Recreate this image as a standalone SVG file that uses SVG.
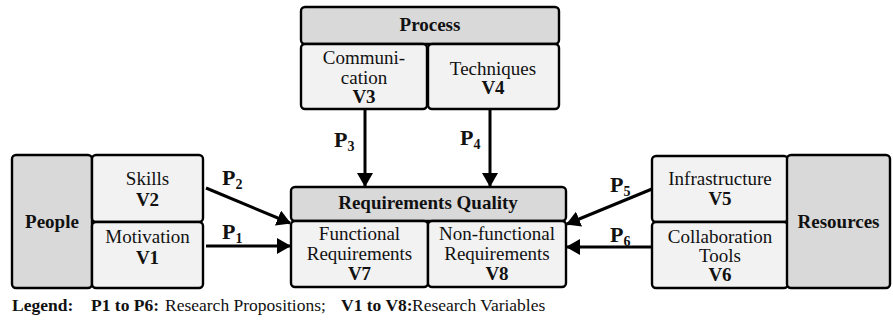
<svg xmlns="http://www.w3.org/2000/svg" width="893" height="320" viewBox="0 0 893 320">
<defs>
<marker id="ah" markerUnits="userSpaceOnUse" markerWidth="14" markerHeight="16" refX="13" refY="8" orient="auto">
<path d="M0,0 L14,8 L0,16 z" fill="#000"/>
</marker>
<style>
.hd{fill:#d9d9d9;stroke:#000;stroke-width:2.4}
.cl{fill:#f2f2f2;stroke:#000;stroke-width:2.4}
text{font-family:'Liberation Serif',serif !important;font-size:19px;fill:#111;text-anchor:middle}
.b{font-weight:bold}
.lg{font-size:17.5px;text-anchor:start}
.ar{stroke:#000;stroke-width:3;fill:none;marker-end:url(#ah)}
.pl{font-weight:bold;font-size:22px;text-anchor:start}
.sub{font-size:14px}
</style>
</defs>
<g id="process">
<rect class="hd" x="301" y="7" width="258" height="37" rx="4"/>
<text font-family="Liberation Serif" class="b" x="430" y="31">Process</text>
</g>
<g id="v3">
<rect class="cl" x="301" y="44" width="126" height="65" rx="4"/>
<text font-family="Liberation Serif" x="364" y="64">Communi-</text>
<text font-family="Liberation Serif" x="364" y="84">cation</text>
<text font-family="Liberation Serif" class="b" x="364" y="103">V3</text>
</g>
<g id="v4">
<rect class="cl" x="428" y="44" width="131" height="65" rx="4"/>
<text font-family="Liberation Serif" x="493" y="75">Techniques</text>
<text font-family="Liberation Serif" class="b" x="493" y="94">V4</text>
</g>
<g id="people">
<rect class="hd" x="12" y="155" width="80" height="133" rx="4"/>
<text font-family="Liberation Serif" class="b" x="52" y="228">People</text>
</g>
<g id="v2">
<rect class="cl" x="92" y="155" width="111" height="67" rx="4"/>
<text font-family="Liberation Serif" x="147.5" y="185">Skills</text>
<text font-family="Liberation Serif" class="b" x="147.5" y="206">V2</text>
</g>
<g id="v1">
<rect class="cl" x="92" y="222" width="111" height="66" rx="4"/>
<text font-family="Liberation Serif" x="147.5" y="243">Motivation</text>
<text font-family="Liberation Serif" class="b" x="147.5" y="264">V1</text>
</g>
<g id="quality">
<rect class="hd" x="291" y="187" width="275" height="34" rx="4"/>
<text font-family="Liberation Serif" class="b" x="428" y="209">Requirements Quality</text>
</g>
<g id="v7">
<rect class="cl" x="291" y="221" width="137" height="66" rx="4"/>
<text font-family="Liberation Serif" x="359.5" y="240">Functional</text>
<text font-family="Liberation Serif" x="359.5" y="260">Requirements</text>
<text font-family="Liberation Serif" class="b" x="359.5" y="280">V7</text>
</g>
<g id="v8">
<rect class="cl" x="428" y="221" width="138" height="66" rx="4"/>
<text font-family="Liberation Serif" x="497" y="240">Non-functional</text>
<text font-family="Liberation Serif" x="497" y="260">Requirements</text>
<text font-family="Liberation Serif" class="b" x="497" y="280">V8</text>
</g>
<g id="v5">
<rect class="cl" x="652" y="156" width="136" height="66" rx="4"/>
<text font-family="Liberation Serif" x="720" y="185">Infrastructure</text>
<text font-family="Liberation Serif" class="b" x="720" y="205">V5</text>
</g>
<g id="v6">
<rect class="cl" x="652" y="222" width="136" height="66" rx="4"/>
<text font-family="Liberation Serif" x="720" y="243">Collaboration</text>
<text font-family="Liberation Serif" x="720" y="262">Tools</text>
<text font-family="Liberation Serif" class="b" x="720" y="281">V6</text>
</g>
<g id="resources">
<rect class="hd" x="787" y="155" width="103" height="133" rx="4"/>
<text font-family="Liberation Serif" class="b" x="838.5" y="228">Resources</text>
</g>
<g id="connectors">
<line class="ar" x1="365" y1="109" x2="365" y2="186"/>
<line class="ar" x1="490" y1="109" x2="490" y2="186"/>
<line class="ar" x1="206" y1="188" x2="290" y2="223"/>
<line class="ar" x1="206" y1="246" x2="290" y2="246"/>
<line class="ar" x1="652" y1="189" x2="567" y2="224"/>
<line class="ar" x1="652" y1="247" x2="567" y2="247"/>
<text font-family="Liberation Serif" class="pl" x="334" y="147">P<tspan class="sub" dy="4">3</tspan></text>
<text font-family="Liberation Serif" class="pl" x="460" y="145">P<tspan class="sub" dy="4">4</tspan></text>
<text font-family="Liberation Serif" class="pl" x="222" y="185">P<tspan class="sub" dy="4">2</tspan></text>
<text font-family="Liberation Serif" class="pl" x="222" y="239">P<tspan class="sub" dy="4">1</tspan></text>
<text font-family="Liberation Serif" class="pl" x="610" y="192">P<tspan class="sub" dy="4">5</tspan></text>
<text font-family="Liberation Serif" class="pl" x="610" y="242">P<tspan class="sub" dy="4">6</tspan></text>
</g>
<g id="legend">
<text font-family="Liberation Serif" class="lg b" x="12" y="311">Legend:</text>
<text font-family="Liberation Serif" class="lg b" x="91" y="311">P1 to P6:</text>
<text font-family="Liberation Serif" class="lg" x="165" y="311">Research Propositions;</text>
<text font-family="Liberation Serif" class="lg b" x="341" y="311">V1 to V8:</text>
<text font-family="Liberation Serif" class="lg" x="412" y="311">Research Variables</text>
</g>
</svg>
